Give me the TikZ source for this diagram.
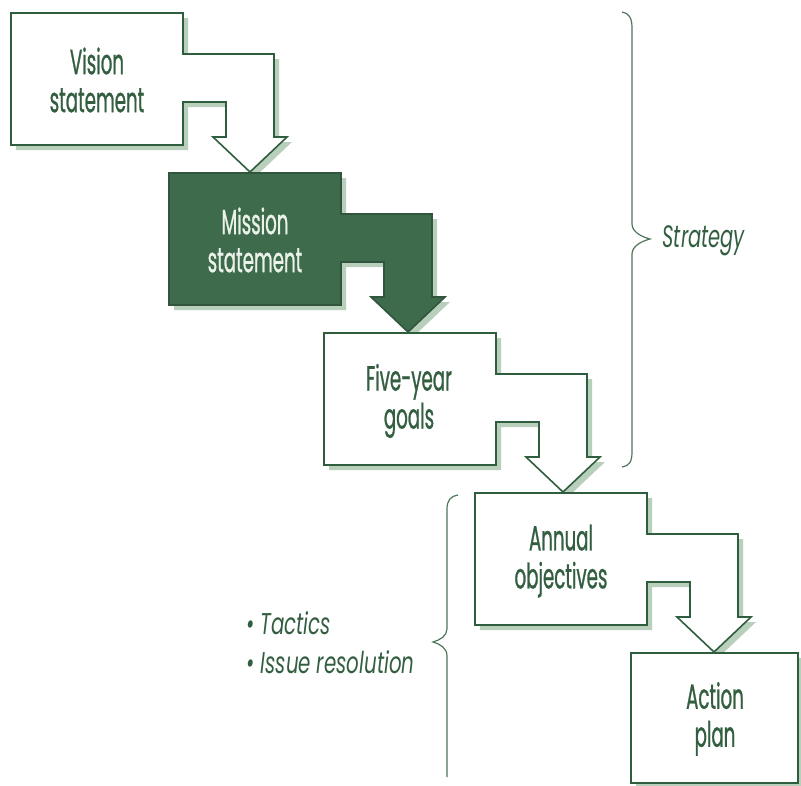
\documentclass[tikz,border=0pt]{standalone}
\usepackage{fontspec}
\setmainfont{Poppins}
\newfontfamily\boxfont[FakeStretch=0.52,FakeBold=0.7]{Poppins}
\newfontfamily\stratfont[FakeStretch=0.63]{Poppins}
\newfontfamily\bulfont[FakeStretch=0.66]{Poppins}
\definecolor{dkg}{HTML}{2F5E3E}
\definecolor{fillg}{HTML}{3E6B4C}
\definecolor{shadg}{HTML}{B8CFBC}
\definecolor{txtg}{HTML}{335F40}
\definecolor{lightt}{HTML}{EAF2EA}
\def\stepshape{(0,0) -- (172,0) -- (172,41) -- (263,41) -- (263,124) -- (276,124) -- (239,159) -- (202,124) -- (215,124) -- (215,89) -- (172,89) -- (172,132) -- (0,132) -- cycle}
\newcommand\stepbox[3]{%
  \fill[shadg,shift={(#1+5,#2+5)}] \stepshape;
  \draw[outl,#3,shift={(#1,#2)}] \stepshape;}
\tikzset{
  outl/.style={draw=dkg,line width=1.6pt,fill=white,line join=miter},
  boxtext/.style={font=\boxfont\fontsize{35}{38}\selectfont,text=txtg,align=center},
  bracel/.style={draw=dkg!85,line width=1.2pt},
  labtext/.style={font=\stratfont\itshape\fontsize{31}{35}\selectfont,text=txtg},
  bultext/.style={font=\bulfont\itshape\fontsize{30}{39}\selectfont,text=txtg,align=left}
}
\begin{document}
\begin{tikzpicture}[x=1pt,y=-1pt]
\useasboundingbox (0,0) rectangle (801,785);
\fill[white] (0,0) rectangle (801,785);
% boxes with arrows
\stepbox{11}{13}{}
\stepbox{169}{173}{fill=fillg,draw=fillg!80!black}
\stepbox{324}{333}{}
\stepbox{475}{493}{}
\fill[shadg] (636,658) rectangle (805,790);
\draw[outl] (631,653) rectangle (798,783);
% texts
\node[boxtext] (vision) at (97,80) {Vision\\statement};
\node[boxtext,text=lightt] (mission) at (255,240) {Mission\\statement};
\node[boxtext] (fiveyear) at (409,401) {Five-year\\goals};
\node[boxtext] (annual) at (561,561) {Annual\\objectives};
\node[boxtext] (action) at (715,719) {Action\\plan};
% braces
\draw[bracel] (622,12) .. controls (629,13) and (632,18) .. (632,28) -- (632,224) .. controls (632,232) and (642,237) .. (650,239) .. controls (642,241) and (632,246) .. (632,254) -- (632,452) .. controls (632,462) and (629,466) .. (622,467);
\draw[bracel] (458,495) .. controls (451,496) and (447,500) .. (447,509) -- (447,629) .. controls (447,636) and (440,640) .. (433,642) .. controls (440,644) and (447,648) .. (447,656) -- (447,777);
% labels
\node[labtext,anchor=west] (strategy) at (659,241) {Strategy};
\node[bultext,anchor=west] (tactics) at (243,643) {\textbullet\ Tactics\\\textbullet\ Issue resolution};
\end{tikzpicture}
\end{document}
